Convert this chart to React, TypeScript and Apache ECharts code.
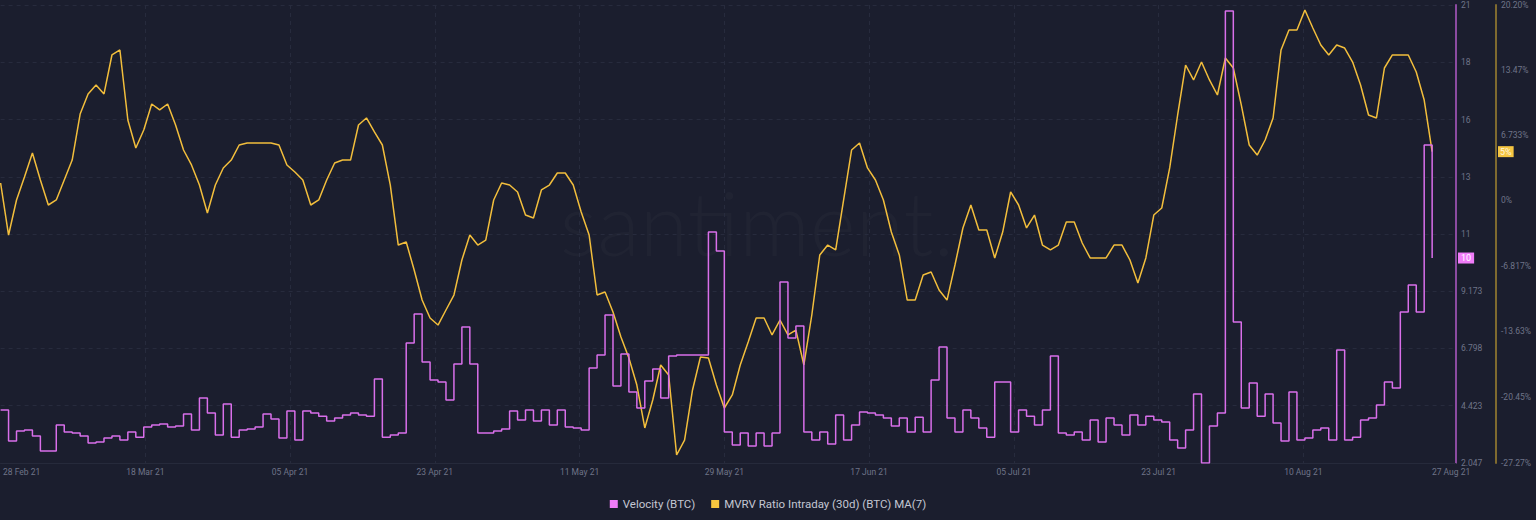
import React, { useEffect, useRef } from "react";
import * as echarts from "echarts";

// ---------- data ----------
const START_DATE = Date.UTC(2021, 1, 28);
const DAY_COUNT = 184;
const MONTHS = ["Jan", "Feb", "Mar", "Apr", "May", "Jun", "Jul", "Aug", "Sep", "Oct", "Nov", "Dec"];
const categories: string[] = Array.from({ length: DAY_COUNT }, (_, i) => {
  const d = new Date(START_DATE + i * 86400000);
  return `${String(d.getUTCDate()).padStart(2, "0")} ${MONTHS[d.getUTCMonth()]} 21`;
});

const tickLabels = [
  "28 Feb 21", "18 Mar 21", "05 Apr 21", "23 Apr 21", "11 May 21", "29 May 21",
  "17 Jun 21", "05 Jul 21", "23 Jul 21", "10 Aug 21", "27 Aug 21",
];
const velocityTicks = [2.047, 4.423, 6.798, 9.173, 11.548, 13.922, 16.297, 18.672, 21.047];
const mvrvTicks = [-27.27, -20.45, -13.63, -6.817, 0, 6.733, 13.47, 20.2];

const velocity = [
  4.25, 2.96, 3.37, 3.42, 3.17, 2.55, 2.55, 3.62, 3.33, 3.29,
  3.17, 2.88, 2.92, 3.08, 3.17, 3.0, 3.33, 3.12, 3.54, 3.62,
  3.66, 3.54, 3.58, 4.08, 3.42, 4.74, 4.12, 3.21, 4.49, 3.12,
  3.42, 3.46, 3.54, 4.08, 3.87, 3.08, 4.2, 3.0, 4.2, 4.12,
  3.99, 3.79, 3.91, 4.04, 4.12, 4.04, 3.99, 5.53, 3.12, 3.21,
  3.29, 7.03, 8.23, 6.24, 5.49, 5.41, 4.66, 6.15, 7.69, 6.15,
  3.29, 3.29, 3.37, 3.46, 4.2, 3.83, 4.25, 3.79, 4.25, 3.62,
  4.25, 3.54, 3.5, 3.42, 5.99, 6.53, 8.19, 5.24, 6.57, 4.99,
  4.33, 5.45, 5.95, 4.74, 6.49, 6.53, 6.53, 6.53, 6.53, 11.63,
  10.84, 3.33, 2.79, 3.29, 2.75, 3.29, 2.75, 3.29, 9.56, 7.23,
  7.73, 3.33, 3.0, 3.33, 2.84, 4.04, 3.0, 3.62, 4.16, 4.12,
  4.04, 3.91, 3.58, 3.91, 3.33, 3.95, 3.33, 5.49, 6.86, 3.91,
  3.33, 4.25, 3.91, 3.5, 3.12, 5.41, 5.41, 3.33, 4.25, 3.99,
  3.62, 4.25, 6.49, 3.29, 3.21, 3.33, 3.0, 3.83, 2.92, 3.91,
  3.62, 3.21, 4.04, 3.62, 3.99, 3.83, 3.75, 3.0, 2.67, 3.42,
  4.91, 2.05, 3.58, 4.12, 20.8, 7.9, 4.33, 5.37, 3.99, 4.91,
  3.71, 2.96, 4.99, 3.0, 3.08, 3.42, 3.5, 3.0, 6.73, 3.0,
  3.12, 3.83, 3.91, 4.45, 5.41, 5.16, 8.31, 9.43, 8.31, 15.24,
  10.55,
];

const mvrv = [
  1.75, -3.64, -0.01, 2.37, 4.86, 2.06, -0.53, -0.01, 2.06, 4.13,
  8.9, 10.98, 11.91, 10.98, 15.02, 15.54, 8.28, 5.38, 7.24, 9.94,
  9.32, 9.94, 7.76, 5.17, 3.62, 1.54, -1.36, 1.54, 3.31, 4.13,
  5.69, 5.9, 5.9, 5.9, 5.9, 5.69, 3.62, 2.89, 2.06, -0.53,
  -0.01, 2.06, 3.82, 4.13, 4.13, 7.76, 8.49, 7.04, 5.69, 1.54,
  -4.68, -4.36, -7.27, -10.38, -12.24, -12.97, -11.41, -9.86, -6.23, -3.64,
  -4.68, -4.16, -0.01, 1.75, 1.54, 0.82, -1.57, -1.88, 1.03, 1.54,
  2.79, 2.79, 1.54, -1.26, -3.64, -9.86, -9.55, -11.62, -14.21, -16.39,
  -19.19, -23.64, -20.74, -17.11, -18.15, -26.44, -24.89, -19.7, -16.28, -16.39,
  -19.19, -21.57, -20.22, -17.11, -14.73, -12.24, -12.24, -14.0, -12.45, -14.0,
  -13.49, -17.11, -11.93, -5.71, -4.68, -5.19, -0.01, 5.17, 5.9, 3.31,
  2.06, -0.01, -3.33, -5.71, -10.38, -10.38, -7.79, -7.47, -9.34, -10.38,
  -6.75, -2.91, -0.53, -3.12, -3.12, -6.02, -3.33, 0.82, -0.53, -2.91,
  -1.57, -4.68, -5.19, -4.68, -2.29, -2.29, -4.47, -6.02, -6.02, -6.02,
  -4.68, -4.68, -6.23, -8.61, -6.02, -1.57, -0.84, 3.31, 8.8, 13.98,
  12.43, 14.29, 12.43, 10.87, 14.71, 13.67, 9.84, 5.69, 4.65, 6.21,
  8.49, 15.54, 17.61, 17.61, 19.68, 17.82, 16.05, 15.02, 16.05, 15.74,
  14.29, 11.91, 8.8, 8.49, 13.67, 15.02, 15.02, 15.02, 13.26, 10.35,
  5.0,
];

const VELOCITY_NAME = "Velocity (BTC)";
const MVRV_NAME = "MVRV Ratio Intraday (30d) (BTC) MA(7)";

// ---------- styling ----------
const BG = "#1b1e2e";
const LABEL_COLOR = "#6f7488";
const GRID_COLOR = "#272b3d";
const FONT = "Roboto, 'Liberation Sans', sans-serif";
const PINK = "#d96fea";
const GOLD = "#f2be3c";
const LABEL_AXIS_MAX = 10.055;

const fmtVelocity = (v: number) => (v >= 10 ? String(Math.floor(v)) : v.toFixed(3));
const fmtMvrv = (v: number) => (Math.abs(v) < 1e-9 ? "0%" : `${Number(v).toPrecision(4)}%`);

const watermark = {
  type: "text",
  x: 757,
  y: 222,
  z: 0,
  silent: true,
  style: {
    text: "santiment.",
    font: "300 88px Lato, sans-serif",
    fill: "rgba(255,255,255,0.022)",
    textAlign: "center",
    textVerticalAlign: "middle",
  },
};

export default function App() {
  const ref = useRef<HTMLDivElement>(null);

  useEffect(() => {
    document.body.style.margin = "0";
    document.body.style.background = BG;
    if (!ref.current) return;
    const chart = echarts.init(ref.current, undefined, { renderer: "svg" });

    const lastVel = velocity[velocity.length - 1];
    const lastMvrv = mvrv[mvrv.length - 1];
    const labelIdx = tickLabels.map((_, i) => i);
    const innerIdx = labelIdx.slice(1, -1);

    chart.setOption({
      animation: false,
      backgroundColor: BG,
      textStyle: { fontFamily: FONT },
      grid: { left: 0, right: 80, top: 5, bottom: 57, containLabel: false },
      graphic: [watermark],
      legend: {
        top: 493,
        left: "center",
        itemWidth: 8,
        itemHeight: 8,
        itemGap: 16,
        icon: "rect",
        data: [VELOCITY_NAME, MVRV_NAME],
        textStyle: { color: "#c3c6d2", fontSize: 11.5, fontFamily: FONT },
      },
      xAxis: [
        {
          type: "category",
          data: categories,
          boundaryGap: false,
          show: false,
        },
        {
          type: "value",
          min: 0,
          max: LABEL_AXIS_MAX,
          position: "bottom",
          axisLine: { show: true, onZero: false, lineStyle: { color: "#262a3b", width: 1 } },
          axisTick: { show: false, customValues: innerIdx },
          splitLine: { show: true, lineStyle: { color: GRID_COLOR, type: [4, 4], width: 1 } },
          axisLabel: {
            customValues: labelIdx,
            margin: 4,
            color: LABEL_COLOR,
            fontSize: 8.5,
            fontFamily: FONT,
            formatter: (v: number) => {
              const i = Math.round(v);
              const t = tickLabels[i] ?? "";
              if (i === 0) return `{first|${t}}`;
              if (i === tickLabels.length - 1) return `{last|${t}}`;
              return t;
            },
            rich: {
              first: { padding: [0, 0, 0, 42], color: LABEL_COLOR, fontSize: 8.5, fontFamily: FONT },
              last: { padding: [0, 0, 0, 6], color: LABEL_COLOR, fontSize: 8.5, fontFamily: FONT },
            },
          },
        },
      ],
      yAxis: [
        {
          type: "value",
          position: "right",
          min: velocityTicks[0],
          max: velocityTicks[velocityTicks.length - 1],
          axisLine: { show: true, onZero: false, lineStyle: { color: "#8c4ba1", width: 2 } },
          axisTick: { show: false, customValues: velocityTicks },
          splitLine: { show: true, lineStyle: { color: GRID_COLOR, type: [4, 4], width: 1 } },
          axisLabel: {
            customValues: velocityTicks,
            formatter: fmtVelocity,
            color: LABEL_COLOR,
            fontSize: 8.5,
            fontFamily: FONT,
            margin: 5,
          },
        },
        {
          type: "value",
          position: "right",
          offset: 40,
          min: mvrvTicks[0],
          max: mvrvTicks[mvrvTicks.length - 1],
          axisLine: { show: true, onZero: false, lineStyle: { color: "#7f6a2f", width: 2 } },
          axisTick: { show: false, customValues: mvrvTicks },
          splitLine: { show: false },
          axisLabel: {
            customValues: mvrvTicks,
            formatter: fmtMvrv,
            color: LABEL_COLOR,
            fontSize: 8.5,
            fontFamily: FONT,
            margin: 5,
          },
        },
      ],
      series: [
        {
          name: MVRV_NAME,
          type: "line",
          xAxisIndex: 0,
          yAxisIndex: 1,
          data: mvrv,
          symbol: "none",
          itemStyle: { color: "#f7c63f" },
          lineStyle: { color: GOLD, width: 1.5 },
          z: 2,
        },
        {
          name: VELOCITY_NAME,
          type: "line",
          step: "end",
          xAxisIndex: 0,
          yAxisIndex: 0,
          data: velocity,
          symbol: "none",
          itemStyle: { color: "#f07cf8" },
          lineStyle: { color: PINK, width: 1.5 },
          z: 3,
        },
      ],
    });

    // last-value badges placed on the axes through the chart's own scales
    const yVel = chart.convertToPixel({ yAxisIndex: 0 }, lastVel) as number;
    const yMvrv = chart.convertToPixel({ yAxisIndex: 1 }, lastMvrv) as number;
    const xRight = chart.convertToPixel({ xAxisIndex: 1 }, LABEL_AXIS_MAX) as number;

    chart.setOption({
      graphic: [
        watermark,
        {
          type: "text",
          x: xRight + 2,
          y: yVel,
          z: 10,
          silent: true,
          style: {
            text: fmtVelocity(lastVel),
            font: `9px ${FONT}`,
            fill: "#ffffff",
            backgroundColor: "#f07cf8",
            padding: [1, 3],
            textAlign: "left",
            textVerticalAlign: "middle",
          },
        },
        {
          type: "text",
          x: xRight + 42,
          y: yMvrv,
          z: 10,
          silent: true,
          style: {
            text: `${Math.round(lastMvrv)}%`,
            font: `9px ${FONT}`,
            fill: "#fff6dc",
            backgroundColor: "#f5c542",
            padding: [1, 2],
            textAlign: "left",
            textVerticalAlign: "middle",
          },
        },
      ],
    });

    return () => chart.dispose();
  }, []);

  return <div ref={ref} style={{ width: 1536, height: 520, background: BG }} />;
}
